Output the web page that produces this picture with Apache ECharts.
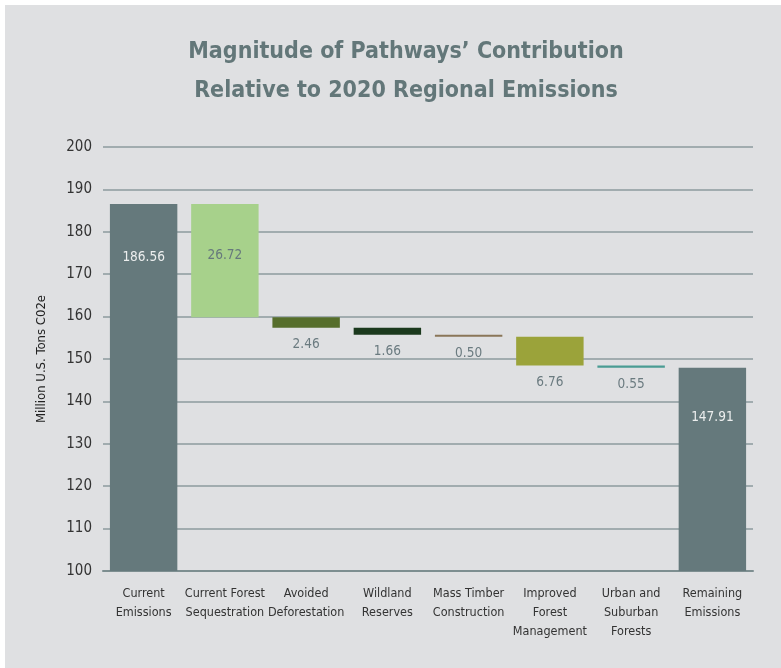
<!DOCTYPE html>
<html>
<head>
<meta charset="utf-8">
<script src="https://cdn.jsdelivr.net/npm/echarts@6/dist/echarts.min.js"></script>
<style>
html,body{margin:0;padding:0;background:#ffffff;}
#chart{width:781px;height:668px;}
</style>
</head>
<body>
<div id="chart"></div>
<script>
const categories = ['Current\nEmissions', 'Current Forest\nSequestration', 'Avoided\nDeforestation', 'Wildland\nReserves', 'Mass Timber\nConstruction', 'Improved\nForest\nManagement', 'Urban and\nSuburban\nForests', 'Remaining\nEmissions'];
const values = [186.56, 26.72, 2.46, 1.66, 0.50, 6.76, 0.55, 147.91];
const kinds = ['total', 'decrease', 'decrease', 'decrease', 'decrease', 'decrease', 'decrease', 'total'];
const colors = ['#65797c', '#a7d18b', '#566e2b', '#1b391d', '#8a7658', '#9ba33a', '#4a9c93', '#65797c'];
const yTicks = [100, 110, 120, 130, 140, 150, 160, 170, 180, 190, 200];

const FONT = '"DejaVu Sans Condensed", "Liberation Sans Narrow", "Liberation Sans", sans-serif';

const bases = [];
const visible = [];
let running = 0;
values.forEach((v, i) => {
  if (kinds[i] === 'total') {
    bases.push(0);
    visible.push(v);
    running = v;
  } else {
    running = running - v;
    bases.push(running);
    visible.push(v);
  }
});

const labelCfg = (i) => {
  const txt = values[i].toFixed(2);
  if (kinds[i] === 'total') {
    return {show: true, position: 'insideTop', distance: i === 0 ? 47 : 43, color: '#eceeee', fontSize: 13.5, fontFamily: FONT, formatter: txt};
  }
  if (i === 1) {
    return {show: true, position: 'insideTop', distance: 45, color: '#66797c', fontSize: 13.5, fontFamily: FONT, formatter: txt};
  }
  return {show: true, position: 'bottom', distance: 10, color: '#6b7b80', fontSize: 13.5, fontFamily: FONT, formatter: txt};
};

const chart = echarts.init(document.getElementById('chart'), null, {renderer: 'canvas'});
chart.setOption({
  backgroundColor: '#ffffff',
  animation: false,
  graphic: [{
    type: 'rect', z: -10, silent: true,
    shape: {x: 5, y: 5, width: 776, height: 663},
    style: {fill: '#dfe0e2'}
  }],
  title: {
    text: 'Magnitude of Pathways\u2019 Contribution\nRelative to 2020 Regional Emissions',
    left: 401, top: 28, textAlign: 'center',
    textStyle: {fontFamily: FONT, fontWeight: 'bold', fontSize: 23, lineHeight: 39, color: '#637779'}
  },
  grid: {left: 103, right: 28, top: 147, bottom: 97, containLabel: false},
  xAxis: {
    type: 'category',
    data: categories,
    axisLine: {show: true, lineStyle: {color: '#7d8e90', width: 2}},
    axisTick: {show: false},
    axisLabel: {color: '#333333', fontSize: 12.5, fontFamily: FONT, lineHeight: 19, margin: 13, interval: 0}
  },
  yAxis: {
    type: 'value',
    min: 100, max: 200, interval: 10,
    name: 'Million U.S. Tons C02e',
    nameLocation: 'middle',
    nameGap: 55,
    nameTextStyle: {color: '#222222', fontSize: 13, fontFamily: FONT},
    axisLine: {show: false},
    axisTick: {show: false},
    axisLabel: {color: '#333333', fontSize: 15, fontFamily: FONT, margin: 11,
      formatter: (v) => yTicks.includes(v) ? String(v) : ''},
    splitLine: {show: true, lineStyle: {color: '#8d9b9e', width: 1.5}}
  },
  series: [
    {
      type: 'bar', stack: 'w', barWidth: '83%', silent: true,
      itemStyle: {color: 'rgba(0,0,0,0)'},
      data: bases
    },
    {
      type: 'bar', stack: 'w', barWidth: '83%',
      data: visible.map((v, i) => ({value: v, itemStyle: {color: colors[i]}, label: labelCfg(i)}))
    }
  ]
});
</script>
</body>
</html>
